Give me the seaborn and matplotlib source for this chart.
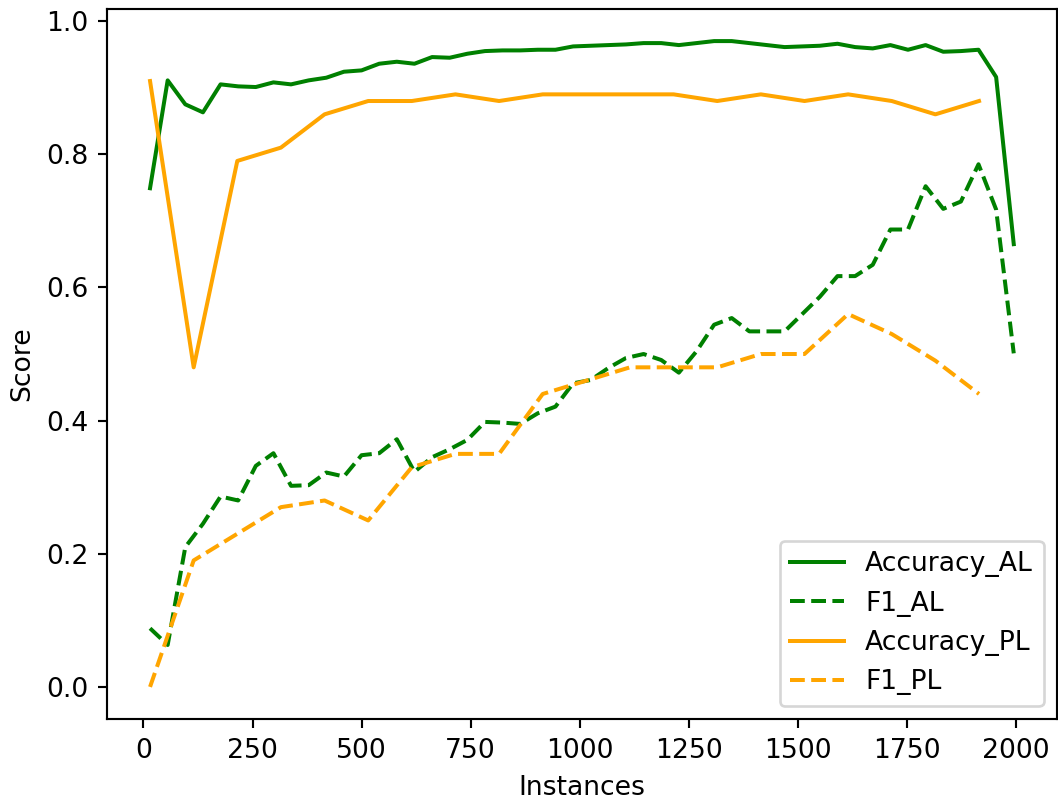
import matplotlib
matplotlib.use("Agg")
import matplotlib.pyplot as plt
import seaborn as sns
import pandas as pd

# instances for active learning (50 rounds) and passive learning (20 rounds)
instances_al = [15.0 + 40.4 * i for i in range(50)]
instances_pl = [15 + 100 * i for i in range(20)]

accuracy_al = [0.749, 0.911, 0.875, 0.863, 0.905, 0.902, 0.901, 0.908, 0.905, 0.911,
               0.915, 0.924, 0.926, 0.936, 0.939, 0.936, 0.946, 0.945, 0.951, 0.955,
               0.956, 0.956, 0.957, 0.957, 0.962, 0.963, 0.964, 0.965, 0.967, 0.967,
               0.964, 0.967, 0.970, 0.970, 0.967, 0.964, 0.961, 0.962, 0.963, 0.966,
               0.961, 0.959, 0.964, 0.957, 0.964, 0.954, 0.955, 0.957, 0.916, 0.665]
f1_al = [0.088, 0.063, 0.210, 0.245, 0.286, 0.280, 0.332, 0.351, 0.302, 0.303,
         0.322, 0.316, 0.348, 0.351, 0.372, 0.323, 0.345, 0.357, 0.371, 0.398,
         0.397, 0.395, 0.411, 0.421, 0.456, 0.461, 0.479, 0.494, 0.500, 0.491,
         0.472, 0.504, 0.544, 0.554, 0.534, 0.534, 0.534, 0.560, 0.586, 0.617,
         0.617, 0.634, 0.687, 0.687, 0.752, 0.718, 0.729, 0.785, 0.717, 0.501]
accuracy_pl = [0.91, 0.48, 0.79, 0.81, 0.86, 0.88, 0.88, 0.89, 0.88, 0.89,
               0.89, 0.89, 0.89, 0.88, 0.89, 0.88, 0.89, 0.88, 0.86, 0.88]
f1_pl = [0.00, 0.19, 0.23, 0.27, 0.28, 0.25, 0.33, 0.35, 0.35, 0.44,
         0.46, 0.48, 0.48, 0.48, 0.50, 0.50, 0.56, 0.53, 0.49, 0.44]

al = pd.DataFrame({"Instances": instances_al, "Accuracy": accuracy_al, "F1": f1_al})
pl = pd.DataFrame({"Instances": instances_pl, "Accuracy": accuracy_pl, "F1": f1_pl})

fig, ax = plt.subplots(figsize=(1058 / 192, 800 / 192), dpi=192)
fig.subplots_adjust(left=0.101, right=0.999, bottom=0.101, top=0.989)

sns.lineplot(data=al, x="Instances", y="Accuracy", color="green", label="Accuracy_AL", ax=ax)
sns.lineplot(data=al, x="Instances", y="F1", color="green", linestyle="--", label="F1_AL", ax=ax)
sns.lineplot(data=pl, x="Instances", y="Accuracy", color="orange", label="Accuracy_PL", ax=ax)
sns.lineplot(data=pl, x="Instances", y="F1", color="orange", linestyle="--", label="F1_PL", ax=ax)

ax.set_xlabel("Instances")
ax.set_ylabel("Score")
ax.legend(loc="lower right")

fig.savefig("out.png", dpi=192)
